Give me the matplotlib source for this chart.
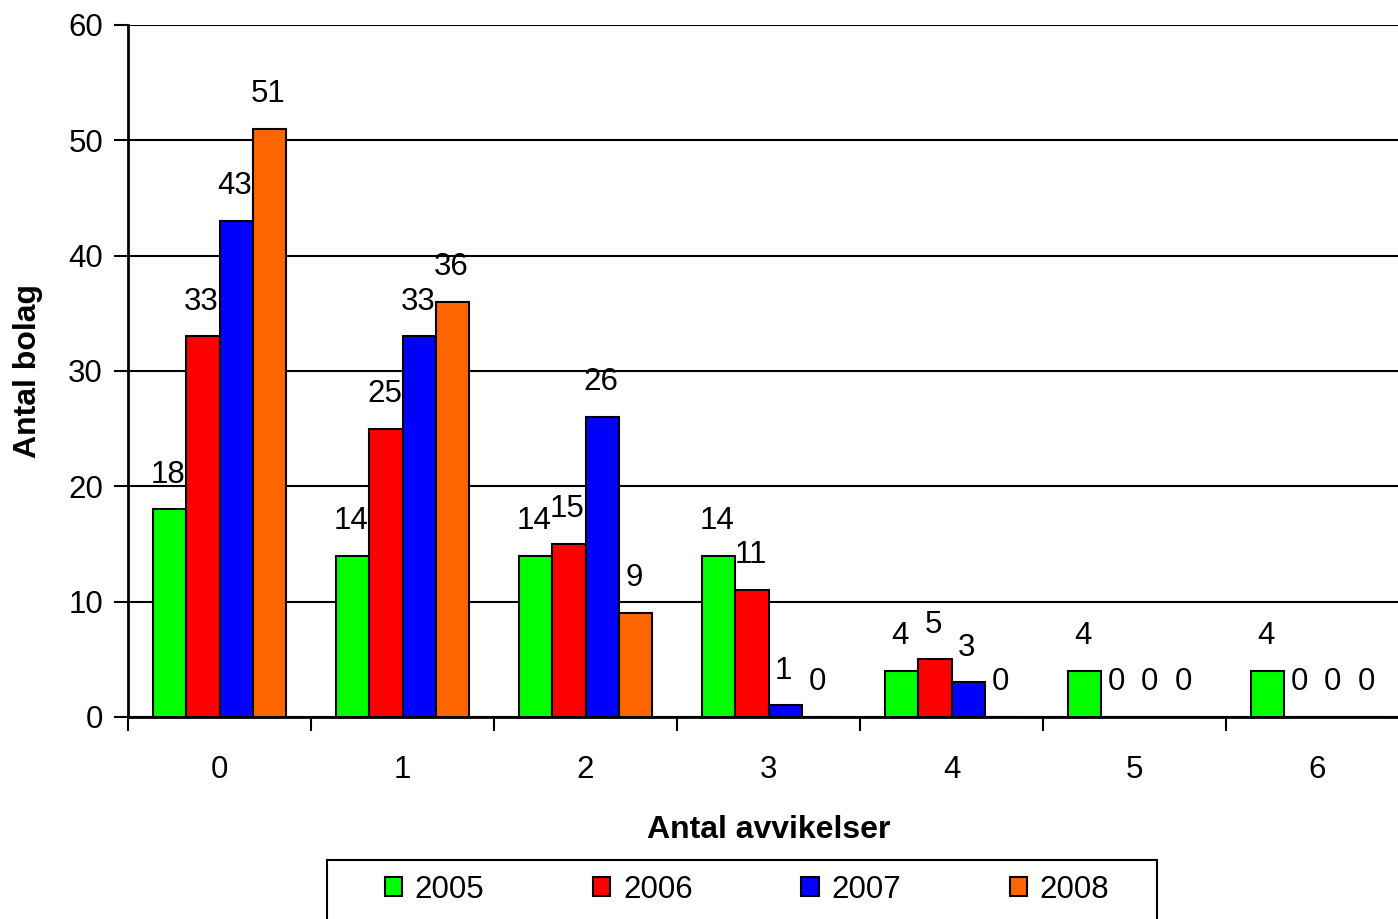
import numpy as np
import matplotlib
matplotlib.use('Agg')
import matplotlib.pyplot as plt
from matplotlib.patches import Patch, Rectangle

plt.rcParams['font.family'] = ['Liberation Sans', 'DejaVu Sans']

# Data
categories = ['0', '1', '2', '3', '4', '5', '6']
years = ['2005', '2006', '2007', '2008']
v2005 = [18, 14, 14, 14, 4, 4, 4]
v2006 = [33, 25, 15, 11, 5, 0, 0]
v2007 = [43, 33, 26, 1, 3, 0, 0]
v2008 = [51, 36, 9, 0, 0, 0, 0]
series = [v2005, v2006, v2007, v2008]
colors = ['#00FF00', '#FF0000', '#0000FF', '#FF6600']

W, H = 1398, 919
fs = 22.5
fig = plt.figure(figsize=(W / 100, H / 100), dpi=100)
# axes right edge runs past the image edge, as in the reference
ax = fig.add_axes([128 / W, 1 - 717 / H, (1409 - 128) / W, (717 - 25) / H])

x = np.arange(len(categories))
bw = 0.182
for k, vals in enumerate(series):
    xpos = x + (k - 1.5) * bw
    ax.bar(xpos, vals, width=bw, color=colors[k], edgecolor='black',
           linewidth=1.5, zorder=3)
    for xp, v in zip(xpos, vals):
        ax.annotate(str(v), (xp, v), xytext=(-1, 25), textcoords='offset points',
                    ha='center', va='center', fontsize=fs, zorder=4)

ax.set_ylim(0, 60)
ax.set_xlim(-0.5, len(categories) - 0.5)
ax.set_yticks(np.arange(0, 61, 10))
ax.yaxis.grid(True, color='black', linewidth=1.5, zorder=0)
ax.set_axisbelow(True)

ax.set_xticks(np.arange(-0.5, len(categories) + 0.5, 1))
ax.set_xticklabels([])
ax.set_xticks(x, minor=True)
ax.set_xticklabels(categories, minor=True)
ax.tick_params(axis='x', which='major', length=10, width=1.5, direction='out')
ax.tick_params(axis='x', which='minor', length=0, pad=27, labelsize=fs)
ax.tick_params(axis='y', length=10, width=1.5, pad=8, labelsize=fs)

for s in ['top', 'right']:
    ax.spines[s].set_visible(False)
for s in ['left', 'bottom']:
    ax.spines[s].set_linewidth(2)
    ax.spines[s].set_zorder(5)

ax.set_xlabel('Antal avvikelser', fontsize=23, fontweight='bold', labelpad=22)
ax.set_ylabel('Antal bolag', fontsize=23, fontweight='bold', labelpad=18)

# legend box, cut off by the bottom edge like the reference
fig.patches.append(Rectangle((327 / W, -0.05), (1157 - 327) / W, 0.05 + 1 - 860 / H,
                             transform=fig.transFigure, facecolor='white',
                             edgecolor='black', linewidth=1.5, zorder=1))
handles = [Patch(facecolor=c, edgecolor='black', linewidth=1.5) for c in colors]
leg = fig.legend(handles, years, loc='center', ncol=4,
                 bbox_to_anchor=(747 / W, 1 - 890 / H), fontsize=fs,
                 frameon=False, handlelength=0.56, handleheight=0.56,
                 handletextpad=0.4, columnspacing=3.48, borderpad=0,
                 borderaxespad=0)
leg.set_zorder(2)

fig.savefig('out.png', dpi=100)
